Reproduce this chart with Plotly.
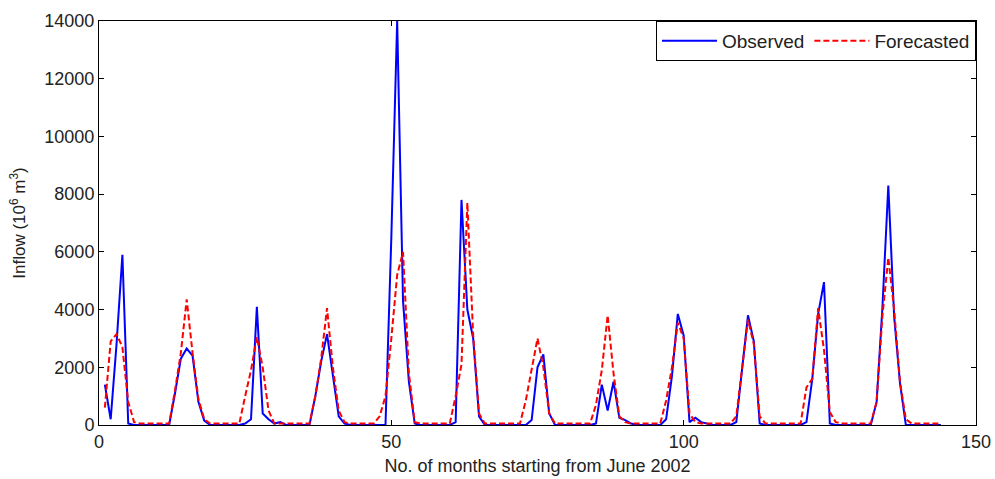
import plotly.graph_objects as go

months = list(range(1, 145))

observed = [
    1400, 200, 2800, 5900, 50, 0, 0, 0, 0, 0, 0, 0,          # 1-12
    1100, 2300, 2650, 2400, 800, 150, 0, 0, 0, 0, 0, 0,      # 13-24
    50, 200, 4100, 400, 200, 50, 100, 0, 0, 0, 0, 0,         # 25-36
    1000, 2200, 3150, 1800, 300, 50, 0, 0, 0, 0, 0, 0,       # 37-48
    0, 6500, 14000, 4300, 1500, 50, 0, 0, 0, 0, 0, 0,        # 49-60
    100, 7800, 4000, 3000, 300, 0, 0, 0, 0, 0, 0, 0,         # 61-72
    0, 170, 2000, 2450, 400, 0, 0, 0, 0, 0, 0, 0,            # 73-84
    50, 1400, 500, 1500, 250, 170, 50, 0, 0, 0, 0, 0,        # 85-96
    200, 1700, 3850, 3100, 100, 250, 100, 50, 0, 0, 0, 0,    # 97-108
    100, 2000, 3800, 2900, 50, 0, 0, 0, 0, 0, 0, 0,          # 109-120
    100, 1600, 3850, 4950, 50, 0, 0, 0, 0, 0, 0, 0,          # 121-132
    800, 4100, 8300, 3750, 1450, 0, 0, 0, 0, 0, 0, 0,        # 133-144
]

forecasted = [
    600, 2900, 3150, 2700, 800, 100, 50, 50, 50, 50, 50, 50,          # 1-12
    1200, 2500, 4350, 2500, 900, 200, 50, 50, 50, 50, 50, 50,         # 13-24
    1000, 1900, 3050, 2000, 500, 50, 50, 50, 50, 50, 50, 50,          # 25-36
    1000, 2300, 4050, 2000, 500, 100, 50, 50, 50, 50, 50, 300,        # 37-48
    1000, 3000, 5200, 6000, 1800, 100, 50, 50, 50, 50, 50, 50,        # 49-60
    1000, 2100, 7700, 3100, 400, 50, 50, 50, 50, 50, 50, 50,          # 61-72
    850, 1900, 3000, 2000, 400, 50, 50, 50, 50, 50, 50, 50,           # 73-84
    700, 1900, 3800, 1800, 300, 100, 50, 50, 50, 50, 50, 50,          # 85-96
    850, 2000, 3550, 3000, 400, 100, 50, 50, 50, 50, 50, 50,          # 97-108
    300, 2000, 3650, 2800, 300, 50, 50, 50, 50, 50, 50, 50,           # 109-120
    1300, 1600, 4050, 2600, 450, 100, 50, 50, 50, 50, 50, 50,         # 121-132
    800, 3800, 5800, 4000, 1500, 200, 50, 50, 50, 50, 50, 50,         # 133-144
]

y_ticks = [0, 2000, 4000, 6000, 8000, 10000, 12000, 14000]
y_tick_labels = ["0", "2000", "4000", "6000", "8000", "10000", "12000", "14000"]
x_ticks = [0, 50, 100, 150]
x_tick_labels = ["0", "50", "100", "150"]

font_family = "Liberation Sans, Arial, sans-serif"

fig = go.Figure()
fig.add_trace(go.Scatter(x=months, y=observed, mode="lines", name="Observed",
                         line=dict(color="#0000ff", width=2)))
fig.add_trace(go.Scatter(x=months, y=forecasted, mode="lines", name="Forecasted",
                         line=dict(color="#ff0000", width=2, dash="6px,3px")))

axis_common = dict(showline=True, linecolor="black", linewidth=1, mirror="ticks",
                   ticks="inside", ticklen=5, tickcolor="black", showgrid=False,
                   zeroline=False, automargin=False,
                   tickfont=dict(size=18, color="#222"), tickmode="array")

fig.update_layout(
    width=995, height=479,
    margin=dict(l=99, r=19, t=21, b=54),
    paper_bgcolor="white", plot_bgcolor="white",
    font=dict(family=font_family, size=18, color="#222"),
    showlegend=True,
    legend=dict(orientation="h", x=1, xanchor="right", y=1, yanchor="top",
                bordercolor="black", borderwidth=1, bgcolor="white",
                font=dict(size=19), tracegroupgap=0, itemwidth=55,
                traceorder="normal"),
    xaxis=dict(range=[0, 150], tickvals=x_ticks, ticktext=x_tick_labels,
               title=dict(text="No. of months starting from June 2002", standoff=8,
                          font=dict(size=18)),
               **axis_common),
    yaxis=dict(range=[0, 14000], tickvals=y_ticks, ticktext=y_tick_labels,
               title=dict(text="Inflow (10<sup>6</sup> m<sup>3</sup>)", standoff=14,
                          font=dict(size=17)),
               **axis_common),
)

fig.write_html("out.html")
